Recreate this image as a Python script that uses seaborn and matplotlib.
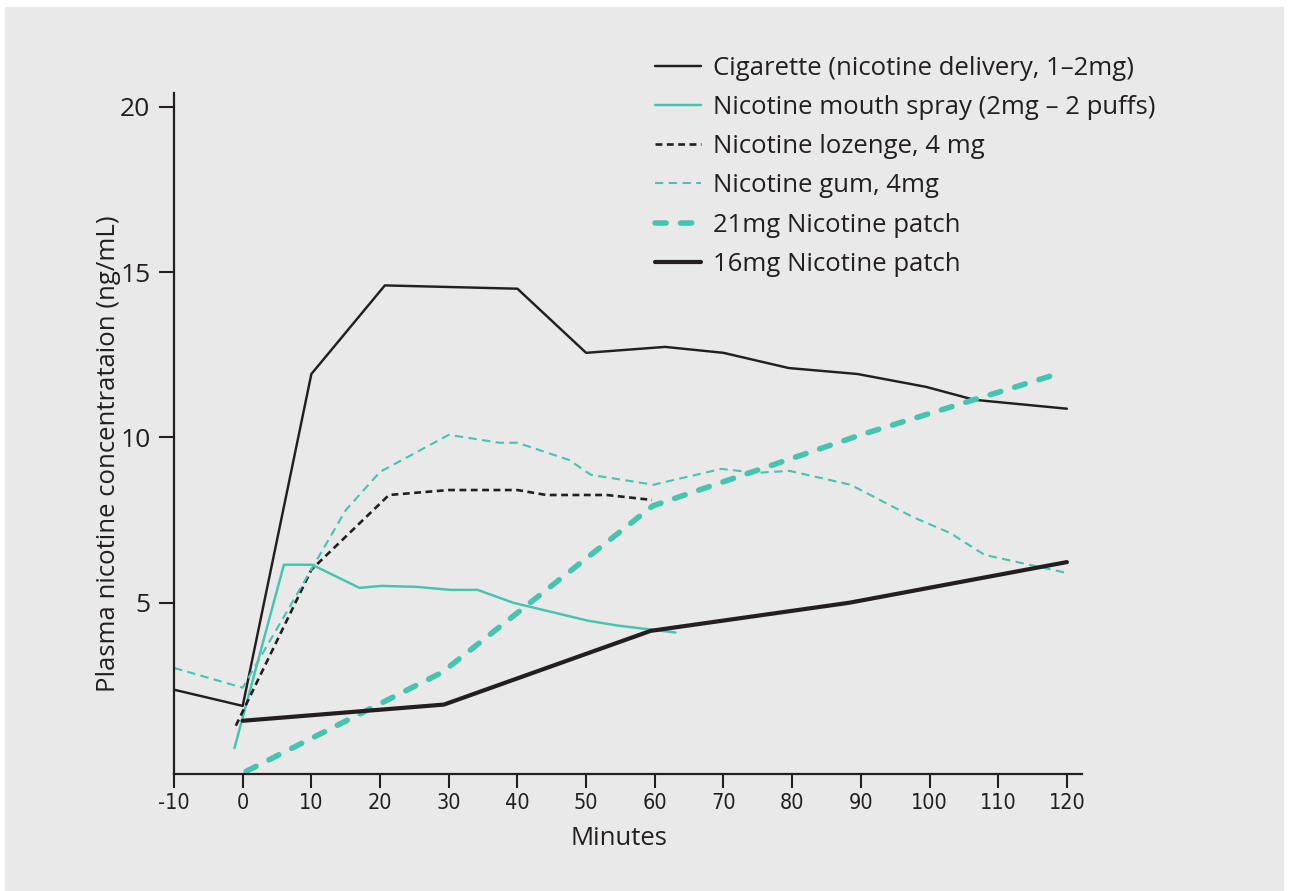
import matplotlib
matplotlib.use('Agg')
import matplotlib.pyplot as plt
from matplotlib import font_manager as fm
import seaborn as sns
import pandas as pd

# Values (minutes, ng/mL)
cig_t = [-10, 0, 10, 20.7, 40, 50, 61.5, 70, 79.5, 89.5, 99.5, 106.5, 120]
cig_v = [2.37, 1.88, 11.92, 14.6, 14.5, 12.56, 12.74, 12.56, 12.1, 11.92, 11.53, 11.14, 10.87]

spray_t = [-1.2, 6, 10.1, 17, 20.2, 25.3, 30.3, 34.2, 39.4, 44.8, 50.2, 54.6, 59.4, 63]
spray_v = [0.6, 6.15, 6.15, 5.45, 5.51, 5.48, 5.39, 5.39, 5.0, 4.73, 4.46, 4.31, 4.19, 4.1]

loz_t = [-1, 10, 21.3, 30, 40, 44.2, 53, 59.6]
loz_v = [1.28, 6.0, 8.26, 8.41, 8.41, 8.26, 8.26, 8.11]

gum_t = [-10, 0, 15, 20, 30, 37.4, 40, 47.5, 50.7, 59.8, 69.7, 74.8, 79.6, 88.5, 97.5, 103, 108, 120]
gum_v = [3.03, 2.43, 7.8, 8.96, 10.08, 9.84, 9.84, 9.32, 8.87, 8.57, 9.05, 8.93, 8.99, 8.57, 7.6, 7.11, 6.45, 5.9]

p21_t = [0.5, 29, 59.7, 90, 119.2]
p21_v = [-0.1, 2.89, 7.93, 10.08, 11.96]

p16_t = [0, 29.3, 59.4, 88.3, 120]
p16_v = [1.43, 1.92, 4.15, 5.0, 6.23]

labels = ['Cigarette (nicotine delivery, 1\u20132mg)',
          'Nicotine mouth spray (2mg \u2013 2 puffs)',
          'Nicotine lozenge, 4 mg',
          'Nicotine gum, 4mg',
          '21mg Nicotine patch',
          '16mg Nicotine patch']

x_ticks = list(range(-10, 121, 10))
y_ticks = [5, 10, 15, 20]

teal = '#45c4b0'
black = '#231f20'
panel = '#e8e9e8'

sns.set_theme(style='ticks')
plt.rcParams['font.family'] = ['Open Sans', 'DejaVu Sans']
plt.rcParams['text.color'] = black
plt.rcParams['axes.labelcolor'] = black

# condensed face for the x tick labels, if one is installed
try:
    fm.findfont(fm.FontProperties(family='Liberation Sans Narrow'), fallback_to_default=False)
    narrow = dict(family='Liberation Sans Narrow', fontsize=17)
except Exception:
    narrow = dict(family='DejaVu Sans', fontstretch='condensed', fontsize=15.5)

fig = plt.figure(figsize=(12.9, 8.91), dpi=100)
fig.patch.set_facecolor('white')
fig.add_artist(plt.Rectangle((5 / 1290, 0), 1278 / 1290, 884 / 891,
                             transform=fig.transFigure, color=panel, zorder=-10))

ax = fig.add_axes([174 / 1290, 1 - 774 / 891, 908 / 1290, 681 / 891])
ax.set_facecolor(panel)

series = [
    (cig_t, cig_v, black, 1.75, '-', 'butt'),
    (spray_t, spray_v, teal, 1.75, '-', 'butt'),
    (loz_t, loz_v, black, 1.9, (0, (2.6, 1.7)), 'butt'),
    (gum_t, gum_v, teal, 1.5, (0, (4.0, 2.6)), 'butt'),
    (p21_t, p21_v, teal, 4.0, (0, (2.0, 2.6)), 'round'),
    (p16_t, p16_v, black, 3.0, '-', 'butt'),
]

for (t, v, col, lw, ls, cap), lab in zip(series, labels):
    df = pd.DataFrame({'Minutes': t, 'conc': v})
    sns.lineplot(data=df, x='Minutes', y='conc', ax=ax, color=col, lw=lw,
                 linestyle=ls, dash_capstyle=cap, label=lab, errorbar=None,
                 sort=False)

ax.set_xlim(-10, 122.2)
ax.set_ylim(-0.18, 20.42)
ax.set_xticks(x_ticks)
ax.set_xticklabels([str(x) for x in x_ticks], **narrow)
ax.set_yticks(y_ticks)
ax.set_yticklabels([str(y) for y in y_ticks], fontsize=19)
ax.tick_params(axis='x', length=10, width=1.5, color=black, labelcolor=black, pad=4)
ax.tick_params(axis='y', length=11, width=1.5, color=black, labelcolor=black, pad=6)

for side in ['top', 'right']:
    ax.spines[side].set_visible(False)
for side in ['left', 'bottom']:
    ax.spines[side].set_color(black)
    ax.spines[side].set_linewidth(1.6)

ax.set_xlabel('Minutes', fontsize=18.5)
ax.set_ylabel('Plasma nicotine concentrataion (ng/mL)', fontsize=18.5)
ax.xaxis.set_label_coords(0.49, -0.076)
ax.yaxis.set_label_coords(-0.058, 0.47)

leg = ax.legend(loc='upper left', bbox_to_anchor=(655 / 1290, 1 - 56 / 891),
                bbox_transform=fig.transFigure, frameon=False, fontsize=18.5,
                handlelength=1.8, handletextpad=0.45, labelspacing=0.55,
                borderpad=0, borderaxespad=0)

plt.savefig('out.png', dpi=100, facecolor=fig.get_facecolor())
plt.close()
